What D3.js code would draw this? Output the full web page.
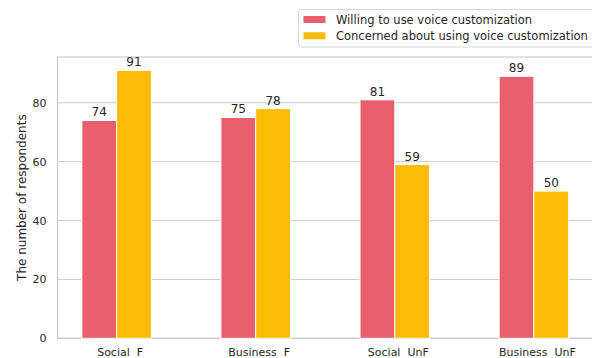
<!DOCTYPE html>
<html lang="en">
<head>
<meta charset="UTF-8">
<title>Voice customization</title>
<script src="https://d3js.org/d3.v7.min.js"></script>
<style>
  body { margin: 0; background: #fff; }
  svg { display: block; }
  svg text { font-family: "DejaVu Sans", sans-serif; fill: #262626; }
  .grid line { stroke: #cccccc; stroke-width: 1; }
</style>
</head>
<body>
<svg width="592" height="358"></svg>
<script>
  const categories = ["Social  F", "Business  F", "Social  UnF", "Business  UnF"];
  const seriesNames = ["Willing to use voice customization", "Concerned about using voice customization"];
  const willing = [74, 75, 81, 89];
  const concerned = [91, 78, 59, 50];
  const yTicks = [0, 20, 40, 60, 80];

  const colors = ["#e95f6d", "#fbbb06"];
  const series = [willing, concerned];

  const svg = d3.select("svg");
  const plotL = 57.5, plotR = 593, plotT = 57, plotB = 338.3;
  const barW = 0.25;

  const x = d3.scaleLinear().domain([-0.425, 3.425]).range([plotL, plotR]);
  const y = d3.scaleLinear().domain([0, 95.55]).range([plotB, plotT]);

  // horizontal grid
  svg.append("g").attr("class", "grid")
    .selectAll("line").data(yTicks).enter().append("line")
    .attr("x1", plotL).attr("x2", plotR)
    .attr("y1", d => y(d)).attr("y2", d => y(d));

  // spines
  svg.append("rect")
    .attr("x", plotL).attr("y", plotT)
    .attr("width", plotR - plotL).attr("height", plotB - plotT)
    .attr("fill", "none").attr("stroke", "#cccccc").attr("stroke-width", 1.2);

  // bars
  series.forEach((vals, s) => {
    const off = s === 0 ? -barW : 0;
    const g = svg.append("g");
    g.selectAll("rect").data(vals).enter().append("rect")
      .attr("x", (d, i) => x(i + off))
      .attr("y", d => y(d))
      .attr("width", x(barW) - x(0))
      .attr("height", d => y(0) - y(d))
      .attr("fill", colors[s])
      .attr("stroke", "#fff")
      .attr("stroke-width", 1);
    g.selectAll("text").data(vals).enter().append("text")
      .attr("x", (d, i) => x(i + off + barW / 2))
      .attr("y", d => y(d) - 4)
      .attr("text-anchor", "middle")
      .style("font-size", "12px")
      .text(d => d);
  });

  // y axis
  const yAxis = svg.append("g")
    .attr("transform", `translate(${plotL},0)`)
    .call(d3.axisLeft(y).tickValues(yTicks).tickSize(0).tickPadding(11));
  yAxis.select(".domain").remove();
  yAxis.selectAll("text").style("font-size", "11px");

  // x axis
  const xAxis = svg.append("g")
    .attr("transform", `translate(0,${plotB})`)
    .call(d3.axisBottom(x).tickValues(d3.range(categories.length))
      .tickFormat(i => categories[i]).tickSize(0).tickPadding(0));
  xAxis.select(".domain").remove();
  xAxis.selectAll("text")
    .attr("y", 17.5).attr("dy", null).attr("dx", 3)
    .style("font-size", "11px")
    .style("white-space", "pre");

  // y label
  svg.append("text")
    .attr("transform", `translate(26,${(plotT + plotB) / 2}) rotate(-90)`)
    .attr("text-anchor", "middle")
    .style("font-size", "12px")
    .text("The number of respondents");

  // legend
  const lg = svg.append("g");
  lg.append("rect")
    .attr("x", 298.5).attr("y", 9.5).attr("width", 300).attr("height", 37.5)
    .attr("rx", 3).attr("fill", "#fff").attr("stroke", "#d6d6d6");
  seriesNames.forEach((name, i) => {
    const cy = 19.5 + i * 16.3;
    lg.append("rect").attr("x", 303.5).attr("y", cy - 3.5)
      .attr("width", 22).attr("height", 7).attr("fill", colors[i]);
    lg.append("text").attr("x", 336).attr("y", cy + 4)
      .style("font-size", "11.5px").text(name);
  });
</script>
</body>
</html>
